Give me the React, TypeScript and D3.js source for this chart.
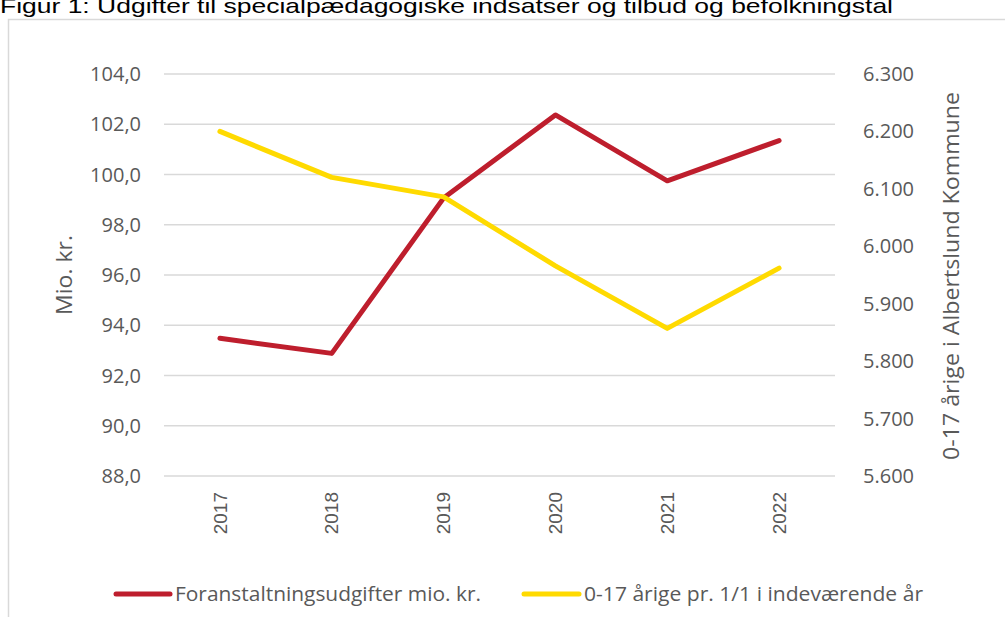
import React from 'react'
import * as d3 from 'd3'

// data
const years = ['2017', '2018', '2019', '2020', '2021', '2022']
const udgifter = [93.48, 92.88, 99.06, 102.37, 99.75, 101.35]
const boern = [6200, 6120, 6086, 5966, 5857, 5962]
const leftTicks = [88, 90, 92, 94, 96, 98, 100, 102, 104]
const rightTicks = [5600, 5700, 5800, 5900, 6000, 6100, 6200, 6300]

const seriesNames = ['Foranstaltningsudgifter mio. kr.', '0-17 årige pr. 1/1 i indeværende år']
const colors = ['#BE1E2D', '#FFDA00']

const W = 1005
const H = 617
const plot = { left: 164, right: 835, top: 74, bottom: 476 }
const txt = '#595959'
const font = '"Open Sans", "Noto Sans", sans-serif'

const App = () => {
  const x = d3.scaleBand().domain(years).range([plot.left, plot.right])
  const yL = d3.scaleLinear().domain([88, 104]).range([plot.bottom, plot.top])
  const yR = d3.scaleLinear().domain([5600, 6300]).range([plot.bottom, plot.top])
  const cx = (d: string) => (x(d) ?? 0) + x.bandwidth() / 2

  const lineL = d3
    .line<number>()
    .x((_, i) => cx(years[i]))
    .y((d) => yL(d))
  const lineR = d3
    .line<number>()
    .x((_, i) => cx(years[i]))
    .y((d) => yR(d))

  const fmtL = (v: number) => v.toFixed(1).replace('.', ',')
  const fmtR = (v: number) => d3.format(',')(v).replace(',', '.')

  return (
    <svg width={W} height={H} style={{ position: 'absolute', left: 0, top: 0, background: '#fff' }}>
      <text
        x={0}
        y={13}
        fontFamily='"Liberation Sans", Arial, sans-serif'
        fontSize={21}
        fill="#000"
        textLength={893}
        lengthAdjust="spacingAndGlyphs"
      >
        Figur 1: Udgifter til specialpædagogiske indsatser og tilbud og befolkningstal
      </text>
      <rect x={8.5} y={19.5} width={W} height={H} fill="none" stroke="#D9D9D9" strokeWidth={1.5} />

      {/* gridlines */}
      {leftTicks.map((t) => (
        <line key={t} x1={plot.left} x2={plot.right} y1={yL(t)} y2={yL(t)} stroke="#D9D9D9" strokeWidth={1.5} />
      ))}

      {/* left axis */}
      {leftTicks.map((t) => (
        <text key={t} x={141} y={yL(t)} dy="0.35em" textAnchor="end" fontFamily={font} fontSize={20} fill={txt}>
          {fmtL(t)}
        </text>
      ))}
      <text
        transform={`translate(64,275) rotate(-90)`}
        textAnchor="middle"
        dy="0.35em"
        fontFamily={font}
        fontSize={22}
        fill={txt}
        textLength={80}
        lengthAdjust="spacingAndGlyphs"
      >
        Mio. kr.
      </text>

      {/* right axis */}
      {rightTicks.map((t) => (
        <text key={t} x={863} y={yR(t)} dy="0.35em" textAnchor="start" fontFamily={font} fontSize={20} fill={txt}>
          {fmtR(t)}
        </text>
      ))}
      <text
        transform={`translate(951,276) rotate(-90)`}
        textAnchor="middle"
        dy="0.35em"
        fontFamily={font}
        fontSize={22}
        fill={txt}
        textLength={368}
        lengthAdjust="spacingAndGlyphs"
      >
        0-17 årige i Albertslund Kommune
      </text>

      {/* x axis labels */}
      {years.map((d) => (
        <text
          key={d}
          transform={`translate(${cx(d)},492) rotate(-90)`}
          textAnchor="end"
          dy="0.35em"
          fontFamily='"Liberation Sans", Arial, sans-serif'
          fontSize={19}
          fill={txt}
        >
          {d}
        </text>
      ))}

      {/* lines */}
      <path d={lineL(udgifter) ?? ''} fill="none" stroke={colors[0]} strokeWidth={5} strokeLinecap="round" strokeLinejoin="round" />
      <path d={lineR(boern) ?? ''} fill="none" stroke={colors[1]} strokeWidth={5} strokeLinecap="round" strokeLinejoin="round" />

      {/* legend */}
      {[
        { x0: 116, x1: 170, tx: 175, len: 306 },
        { x0: 524, x1: 579, tx: 584, len: 339 },
      ].map((l, i) => (
        <g key={i}>
          <line x1={l.x0} x2={l.x1} y1={594} y2={594} stroke={colors[i]} strokeWidth={5} strokeLinecap="round" />
          <text
            x={l.tx}
            y={594}
            dy="0.35em"
            fontFamily={font}
            fontSize={20}
            fill={txt}
            textLength={l.len}
            lengthAdjust="spacingAndGlyphs"
          >
            {seriesNames[i]}
          </text>
        </g>
      ))}
    </svg>
  )
}

export default App
